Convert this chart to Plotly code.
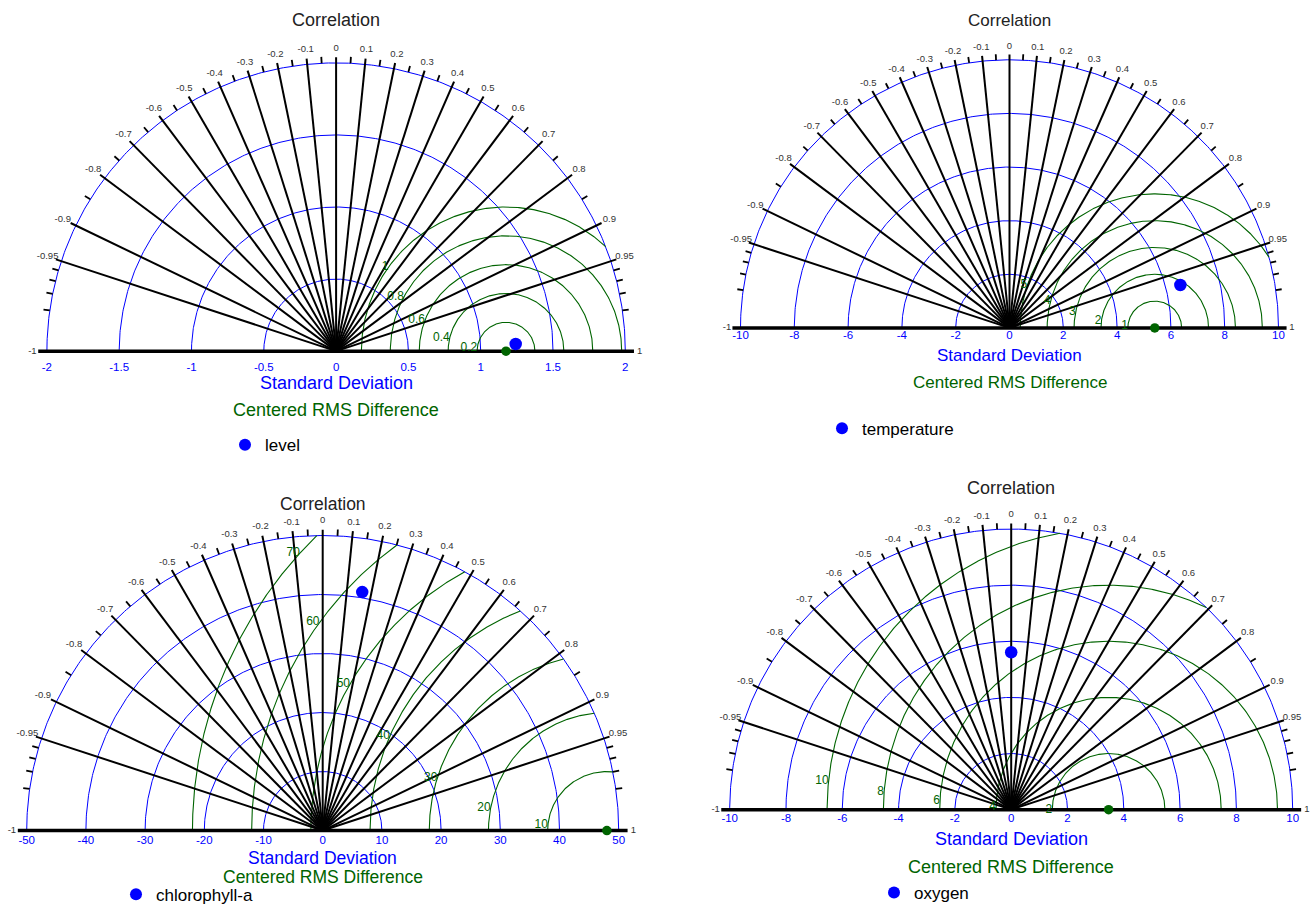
import numpy as np
import plotly.graph_objects as go

# ---------------------------------------------------------------
# Taylor diagrams (correlation range -1 .. 1) for four variables
# ---------------------------------------------------------------
variables = ["level", "temperature", "chlorophyll-a", "oxygen"]
obs_sd = [1.175, 5.40, 48.0, 3.46]          # standard deviation of the observations
model_sd = [1.243, 6.55, 40.97, 5.61]       # standard deviation of the model
model_cor = [0.9992, 0.9697, 0.163, 0.0]    # model / observation correlation
max_sd = [2, 10, 50, 10]

sd_arcs = [
    [0.5, 1, 1.5, 2],
    [2, 4, 6, 8, 10],
    [10, 20, 30, 40, 50],
    [2, 4, 6, 8, 10],
]
sd_ticks = [
    [-2, -1.5, -1, -0.5, 0, 0.5, 1, 1.5, 2],
    [-10, -8, -6, -4, -2, 0, 2, 4, 6, 8, 10],
    [-50, -40, -30, -20, -10, 0, 10, 20, 30, 40, 50],
    [-10, -8, -6, -4, -2, 0, 2, 4, 6, 8, 10],
]
rms_levels = [
    [0.2, 0.4, 0.6, 0.8, 1.0],
    [1, 2, 3, 4, 5],
    [10, 20, 30, 40, 50, 60, 70],
    [2, 4, 6, 8, 10],
]
cor_labels = [-0.95, -0.9, -0.8, -0.7, -0.6, -0.5, -0.4, -0.3, -0.2, -0.1, 0.0,
              0.1, 0.2, 0.3, 0.4, 0.5, 0.6, 0.7, 0.8, 0.9, 0.95]
cor_minor = [-0.99, -0.98, -0.97, -0.96, -0.85, -0.75, -0.65, -0.55, -0.45, -0.35,
             -0.25, -0.15, -0.05, 0.05, 0.15, 0.25, 0.35, 0.45, 0.55, 0.65, 0.75,
             0.85, 0.96, 0.97, 0.98, 0.99]

# ---------------------------------------------------------------
# page geometry (pixels) and styling
# ---------------------------------------------------------------
W, H = 1314, 913
FONT = "Liberation Sans, Arial, Helvetica, sans-serif"
BLUE = "#0000ff"
GREEN = "#006400"

frames = [
    dict(cx=336.1, base=352.3, rad=289.2, box=(0, 0, 655, 466),
         title=20.0, sd_lab=384.0, rms_lab=411.7, key=(246, 446.7),
         standoff=7, rms_ang=(7.4, 1.4), fs=18),
    dict(cx=1009.5, base=329.0, rad=269.0, box=(657, 0, 1314, 466),
         title=20.5, sd_lab=356.7, rms_lab=383.3, key=(843, 430.0),
         standoff=-1, rms_ang=(3.7, 0.0), fs=17),
    dict(cx=322.7, base=833.3, rad=296.0, box=(0, 470, 655, 913),
         title=506.0, sd_lab=861.2, rms_lab=879.5, key=(137, 897.7),
         standoff=1, rms_ang=(6.2, 1.2), fs=17.5),
    dict(cx=1011.2, base=812.3, rad=281.5, box=(657, 470, 1314, 913),
         title=489.3, sd_lab=841.7, rms_lab=870.0, key=(895, 896.0),
         standoff=0, rms_ang=(1.45, 1.4), fs=18),
]


def px(x):
    return x / W


def py(y):
    return 1 - y / H


def join(segments):
    xs, ys = [], []
    for sx, sy in segments:
        xs += list(sx) + [None]
        ys += list(sy) + [None]
    return xs, ys


fig = go.Figure()
annotations = []
layout_axes = {}

for k in range(4):
    f = frames[k]
    M = max_sd[k]
    ref = obs_sd[k]
    sfx = "" if k == 0 else str(k + 1)
    xa, ya = "x" + sfx, "y" + sfx
    leg = "legend" + sfx

    # standard deviation arcs around the origin
    t = np.linspace(0, np.pi, 361)
    xs, ys = join([(r * np.cos(t), r * np.sin(t)) for r in sd_arcs[k]])
    fig.add_trace(go.Scatter(x=xs, y=ys, mode="lines", xaxis=xa, yaxis=ya,
                             line=dict(color=BLUE, width=1), hoverinfo="skip",
                             showlegend=False))

    # centred RMS difference arcs around the reference point, kept inside the rim
    segs, lx, ly, lt = [], [], [], []
    a, b = f["rms_ang"]
    for i, r in enumerate(rms_levels[k], start=1):
        x_int = (M ** 2 - r ** 2 + ref ** 2) / (2 * ref)
        cphi = (x_int - ref) / r
        phi0 = 0.0 if cphi >= 1 else float(np.arccos(np.clip(cphi, -1, 1)))
        tt = np.linspace(phi0, np.pi, 300)
        segs.append((ref + r * np.cos(tt), r * np.sin(tt)))
        th = np.radians(a * i - b)
        lx.append(ref - r * np.cos(th))
        ly.append(r * np.sin(th))
        lt.append(f"{r:g}")
    xs, ys = join(segs)
    fig.add_trace(go.Scatter(x=xs, y=ys, mode="lines", xaxis=xa, yaxis=ya,
                             line=dict(color=GREEN, width=1.1), hoverinfo="skip",
                             showlegend=False))

    # correlation rays
    segs = []
    for c in cor_labels:
        ang = np.arccos(c)
        segs.append(([0, 1.02 * M * np.cos(ang)], [0, 1.02 * M * np.sin(ang)]))
    xs, ys = join(segs)
    fig.add_trace(go.Scatter(x=xs, y=ys, mode="lines", xaxis=xa, yaxis=ya,
                             line=dict(color="black", width=2), hoverinfo="skip",
                             showlegend=False))
    # horizontal axis (correlation -1 .. 1)
    fig.add_trace(go.Scatter(x=[-1.03 * M, 1.03 * M], y=[0, 0], mode="lines",
                             xaxis=xa, yaxis=ya, line=dict(color="black", width=3.5),
                             hoverinfo="skip", showlegend=False))
    # minor correlation ticks on the rim
    segs = []
    for c in cor_minor:
        ang = np.arccos(c)
        segs.append(([M * np.cos(ang), 1.022 * M * np.cos(ang)],
                     [M * np.sin(ang), 1.022 * M * np.sin(ang)]))
    xs, ys = join(segs)
    fig.add_trace(go.Scatter(x=xs, y=ys, mode="lines", xaxis=xa, yaxis=ya,
                             line=dict(color="black", width=1.8), hoverinfo="skip",
                             showlegend=False))

    # correlation labels
    cl = cor_labels + [-1.0, 1.0]
    angs = np.arccos(np.array(cl))
    fig.add_trace(go.Scatter(x=1.05 * M * np.cos(angs), y=1.05 * M * np.sin(angs),
                             mode="text", text=[f"{c:g}" for c in cl],
                             textposition="middle center", xaxis=xa, yaxis=ya,
                             textfont=dict(family=FONT, size=9.5, color="#333333"),
                             hoverinfo="skip", showlegend=False))

    # RMS arc labels
    fig.add_trace(go.Scatter(x=lx, y=ly, mode="text", text=lt,
                             textposition="middle left", xaxis=xa, yaxis=ya,
                             textfont=dict(family=FONT, size=12, color=GREEN),
                             hoverinfo="skip", showlegend=False))

    # reference point
    fig.add_trace(go.Scatter(x=[ref], y=[0], mode="markers", xaxis=xa, yaxis=ya,
                             marker=dict(color=GREEN, size=9.5), hoverinfo="skip",
                             showlegend=False))
    # model point
    th = np.arccos(model_cor[k])
    fig.add_trace(go.Scatter(x=[model_sd[k] * np.cos(th)], y=[model_sd[k] * np.sin(th)],
                             mode="markers", xaxis=xa, yaxis=ya, name=variables[k],
                             marker=dict(color=BLUE, size=12.5), legend=leg,
                             showlegend=True))

    # axes
    X0, Y0, X1, Y1 = f["box"]
    s = f["rad"] / M
    layout_axes["xaxis" + sfx] = dict(
        domain=[px(X0), px(X1)], range=[(X0 - f["cx"]) / s, (X1 - f["cx"]) / s],
        anchor="free", position=py(f["base"]), showgrid=False, zeroline=False,
        showline=False, ticks="", tickvals=sd_ticks[k],
        ticktext=[f"{v:g}" for v in sd_ticks[k]],
        tickfont=dict(family=FONT, size=11.5, color=BLUE),
        ticklabelstandoff=f["standoff"], fixedrange=True)
    layout_axes["yaxis" + sfx] = dict(
        domain=[py(Y1), py(Y0)], range=[(f["base"] - Y1) / s, (f["base"] - Y0) / s],
        anchor=xa, visible=False, fixedrange=True)

    layout_axes[leg] = dict(x=px(f["key"][0] - 21), y=py(f["key"][1]),
                            xanchor="left", yanchor="middle", bgcolor="rgba(0,0,0,0)",
                            itemsizing="constant",
                            font=dict(family=FONT, size=17, color="black"))

    # titles
    cxp = px(f["cx"])
    annotations += [
        dict(text="Correlation", x=cxp, y=py(f["title"]), font=dict(size=f["fs"], color="#222222")),
        dict(text="Standard Deviation", x=cxp, y=py(f["sd_lab"]), font=dict(size=f["fs"], color=BLUE)),
        dict(text="Centered RMS Difference", x=cxp, y=py(f["rms_lab"]), font=dict(size=f["fs"], color=GREEN)),
    ]

for an in annotations:
    an.update(xref="paper", yref="paper", xanchor="center", yanchor="middle",
              showarrow=False, borderpad=0)
    an["font"]["family"] = FONT

fig.update_layout(
    width=W, height=H, margin=dict(l=0, r=0, t=0, b=0),
    paper_bgcolor="white", plot_bgcolor="rgba(0,0,0,0)",
    annotations=annotations, font=dict(family=FONT), **layout_axes,
)

fig.write_html("out.html")
